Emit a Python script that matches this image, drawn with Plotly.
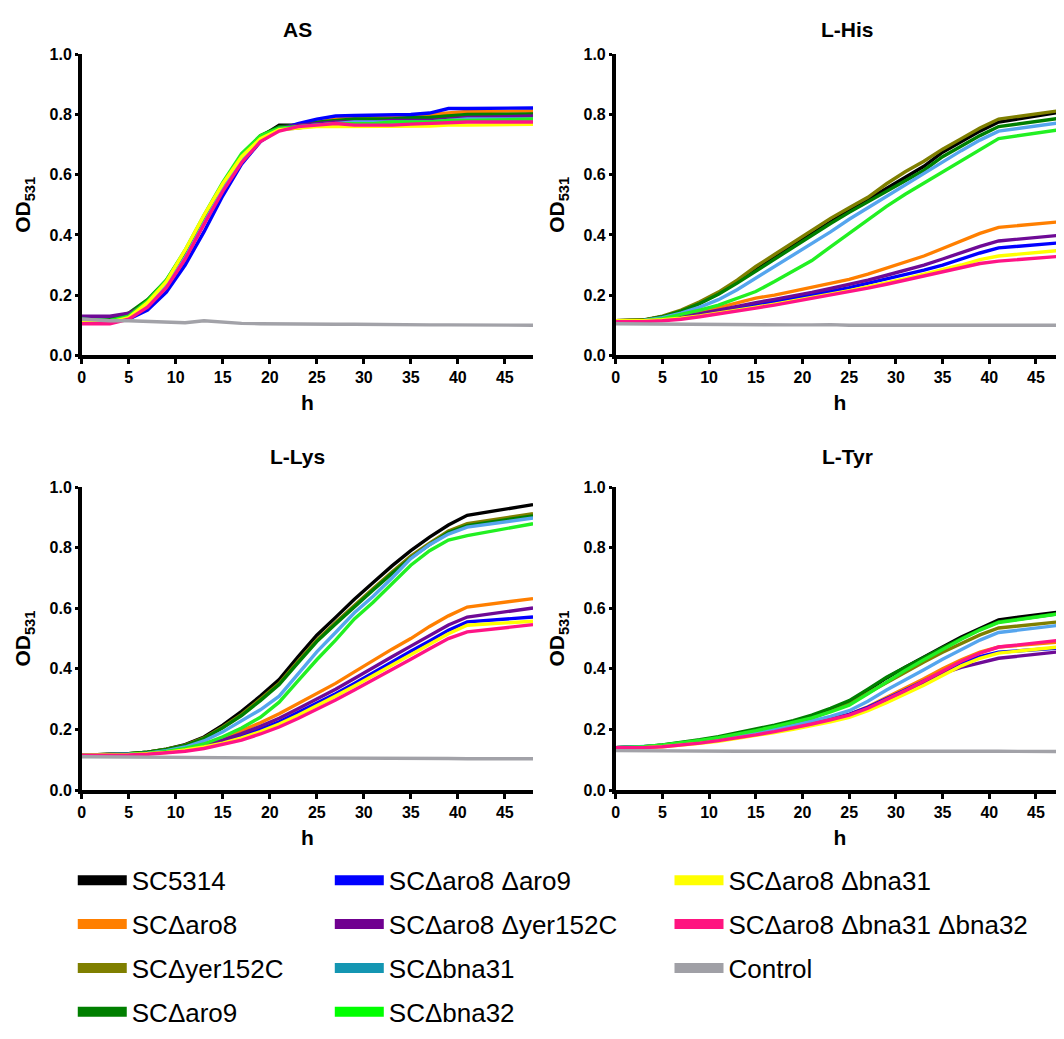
import plotly.graph_objects as go

# page body has an 8px margin, so the figure is sized to fill the window from there
W, H = 1056, 1031
OFF = 8

hours = [0, 3, 5, 7, 9, 11, 13, 15, 17, 19, 21, 23, 25, 27, 29, 31, 33, 35, 37, 39, 41, 48]
xticks = [0, 5, 10, 15, 20, 25, 30, 35, 40, 45]
yticks = [0.0, 0.2, 0.4, 0.6, 0.8, 1.0]
panel_titles = ["AS", "L-His", "L-Lys", "L-Tyr"]

strains = ["SC5314", "SCΔaro8", "SCΔyer152C", "SCΔaro9",
           "SCΔaro8 Δaro9", "SCΔaro8 Δyer152C", "SCΔbna31", "SCΔbna32",
           "SCΔaro8 Δbna31", "SCΔaro8 Δbna31 Δbna32", "Control"]
line_colors = ["#000000", "#FF7F00", "#7F7F00", "#007F00",
               "#0000FF", "#6E0A96", "#55A5EE", "#22F022",
               "#FFFF00", "#FF1486", "#A2A2A8"]
swatch_colors = ["#000000", "#FF7F00", "#7F7F00", "#007F00",
                 "#0000FF", "#700090", "#1496B2", "#00FF00",
                 "#FFFF00", "#FF1480", "#A0A0A6"]

# ---- AS ----
as_sc5314 = [0.125,0.12,0.135,0.18,0.245,0.34,0.455,0.565,0.66,0.725,0.765,0.765,0.77,0.775,0.78,0.78,0.78,0.785,0.785,0.79,0.795,0.80]
as_aro8 = [0.12,0.115,0.13,0.175,0.24,0.335,0.45,0.56,0.65,0.72,0.755,0.765,0.775,0.785,0.79,0.79,0.795,0.795,0.80,0.805,0.81,0.812]
as_yer = [0.125,0.12,0.135,0.18,0.245,0.34,0.455,0.565,0.66,0.725,0.75,0.755,0.765,0.775,0.78,0.78,0.785,0.785,0.79,0.795,0.795,0.80]
as_aro9 = [0.125,0.12,0.14,0.185,0.25,0.345,0.46,0.57,0.665,0.73,0.76,0.765,0.775,0.78,0.785,0.785,0.785,0.79,0.79,0.795,0.80,0.802]
as_aro8aro9 = [0.11,0.11,0.12,0.15,0.21,0.30,0.41,0.53,0.635,0.71,0.75,0.77,0.785,0.795,0.797,0.798,0.80,0.80,0.805,0.82,0.82,0.822]
as_aro8yer = [0.13,0.13,0.14,0.17,0.23,0.32,0.44,0.55,0.65,0.72,0.755,0.765,0.77,0.775,0.775,0.775,0.78,0.78,0.78,0.785,0.79,0.795]
as_bna31 = [0.12,0.115,0.125,0.165,0.23,0.325,0.44,0.55,0.645,0.715,0.75,0.76,0.765,0.77,0.775,0.775,0.775,0.775,0.775,0.78,0.785,0.785]
as_bna32 = [0.12,0.115,0.13,0.18,0.25,0.35,0.465,0.575,0.67,0.73,0.755,0.76,0.765,0.77,0.77,0.77,0.775,0.775,0.775,0.78,0.78,0.785]
as_aro8bna31 = [0.11,0.11,0.125,0.175,0.245,0.35,0.465,0.57,0.66,0.72,0.75,0.755,0.76,0.76,0.76,0.76,0.76,0.762,0.762,0.765,0.765,0.768]
as_triple = [0.105,0.105,0.12,0.16,0.225,0.32,0.435,0.545,0.64,0.71,0.745,0.76,0.765,0.77,0.765,0.765,0.765,0.768,0.77,0.772,0.775,0.775]
as_control = [0.12,0.115,0.115,0.113,0.11,0.108,0.115,0.11,0.106,0.105,0.104,0.104,0.104,0.103,0.103,0.102,0.102,0.102,0.101,0.101,0.101,0.10]

# ---- L-His ----
his_sc5314 = [0.115,0.117,0.128,0.147,0.173,0.205,0.243,0.285,0.325,0.365,0.405,0.445,0.482,0.518,0.555,0.592,0.628,0.675,0.71,0.745,0.775,0.81]
his_aro8 = [0.115,0.117,0.122,0.13,0.143,0.158,0.175,0.19,0.2,0.213,0.225,0.238,0.252,0.27,0.29,0.31,0.33,0.355,0.38,0.405,0.425,0.445]
his_yer = [0.115,0.118,0.13,0.15,0.178,0.21,0.25,0.295,0.335,0.375,0.415,0.455,0.49,0.525,0.57,0.61,0.645,0.685,0.72,0.755,0.785,0.815]
his_aro9 = [0.115,0.117,0.128,0.147,0.172,0.203,0.24,0.28,0.32,0.36,0.4,0.438,0.475,0.51,0.545,0.58,0.615,0.66,0.695,0.73,0.76,0.79]
his_aro8aro9 = [0.115,0.115,0.12,0.127,0.136,0.147,0.158,0.168,0.178,0.19,0.2,0.212,0.225,0.239,0.253,0.268,0.283,0.3,0.32,0.34,0.357,0.375]
his_aro8yer = [0.115,0.115,0.12,0.128,0.138,0.15,0.163,0.175,0.186,0.197,0.209,0.222,0.235,0.25,0.266,0.283,0.3,0.32,0.342,0.362,0.38,0.40]
his_bna31 = [0.115,0.116,0.125,0.14,0.16,0.185,0.218,0.256,0.295,0.332,0.37,0.41,0.452,0.49,0.53,0.568,0.605,0.645,0.68,0.715,0.745,0.775]
his_bna32 = [0.115,0.115,0.122,0.135,0.15,0.167,0.19,0.212,0.245,0.28,0.315,0.36,0.405,0.45,0.495,0.535,0.572,0.608,0.645,0.685,0.72,0.752]
his_aro8bna31 = [0.115,0.115,0.118,0.123,0.131,0.14,0.15,0.16,0.17,0.181,0.192,0.204,0.215,0.228,0.241,0.255,0.27,0.285,0.3,0.318,0.33,0.35]
his_triple = [0.112,0.112,0.115,0.12,0.128,0.137,0.147,0.157,0.167,0.178,0.189,0.2,0.211,0.223,0.236,0.25,0.263,0.277,0.292,0.305,0.313,0.33]
his_control = [0.105,0.104,0.103,0.103,0.102,0.102,0.102,0.101,0.101,0.101,0.101,0.102,0.1,0.099,0.1,0.1,0.1,0.1,0.1,0.1,0.1,0.1]

# ---- L-Lys ----
lys_sc5314 = [0.115,0.117,0.12,0.125,0.135,0.15,0.175,0.214,0.26,0.31,0.365,0.44,0.511,0.57,0.63,0.685,0.74,0.79,0.835,0.875,0.907,0.942]
lys_aro8 = [0.115,0.116,0.118,0.121,0.128,0.138,0.152,0.17,0.195,0.222,0.252,0.285,0.318,0.352,0.39,0.428,0.465,0.5,0.54,0.575,0.604,0.632]
lys_yer = [0.115,0.117,0.12,0.125,0.135,0.148,0.172,0.208,0.25,0.3,0.352,0.425,0.495,0.553,0.61,0.665,0.72,0.772,0.815,0.855,0.879,0.912]
lys_aro9 = [0.115,0.117,0.12,0.125,0.134,0.147,0.17,0.205,0.246,0.295,0.348,0.42,0.49,0.548,0.605,0.66,0.715,0.766,0.81,0.85,0.873,0.905]
lys_aro8aro9 = [0.115,0.116,0.118,0.12,0.126,0.134,0.146,0.16,0.178,0.2,0.225,0.255,0.286,0.318,0.352,0.388,0.423,0.458,0.492,0.527,0.555,0.571]
lys_aro8yer = [0.115,0.116,0.118,0.121,0.127,0.136,0.149,0.165,0.186,0.21,0.237,0.268,0.3,0.333,0.368,0.405,0.44,0.475,0.51,0.545,0.571,0.601]
lys_bna31 = [0.115,0.116,0.118,0.122,0.13,0.142,0.162,0.192,0.228,0.265,0.31,0.385,0.456,0.52,0.585,0.64,0.7,0.764,0.81,0.845,0.868,0.898]
lys_bna32 = [0.115,0.116,0.118,0.121,0.127,0.137,0.152,0.176,0.205,0.24,0.29,0.36,0.43,0.495,0.565,0.62,0.68,0.742,0.79,0.825,0.84,0.879]
lys_aro8bna31 = [0.115,0.115,0.117,0.12,0.124,0.132,0.142,0.155,0.172,0.193,0.218,0.247,0.277,0.31,0.343,0.378,0.413,0.447,0.481,0.516,0.544,0.557]
lys_triple = [0.115,0.115,0.116,0.118,0.122,0.128,0.137,0.15,0.165,0.185,0.208,0.236,0.265,0.297,0.33,0.363,0.398,0.432,0.466,0.5,0.522,0.546]
lys_control = [0.11,0.109,0.108,0.108,0.108,0.107,0.107,0.107,0.106,0.106,0.106,0.106,0.106,0.105,0.105,0.105,0.105,0.105,0.104,0.104,0.103,0.103]

# ---- L-Tyr ----
tyr_sc5314 = [0.14,0.143,0.148,0.155,0.163,0.172,0.183,0.195,0.208,0.222,0.24,0.265,0.29,0.33,0.37,0.405,0.44,0.472,0.505,0.535,0.562,0.59]
tyr_aro8 = [0.14,0.141,0.145,0.15,0.157,0.165,0.174,0.184,0.195,0.207,0.22,0.235,0.25,0.275,0.305,0.335,0.367,0.4,0.43,0.455,0.472,0.49]
tyr_yer = [0.14,0.142,0.147,0.154,0.162,0.171,0.182,0.194,0.207,0.222,0.238,0.26,0.285,0.32,0.355,0.39,0.423,0.455,0.485,0.512,0.535,0.557]
tyr_aro9 = [0.14,0.143,0.149,0.157,0.166,0.176,0.188,0.2,0.214,0.229,0.247,0.27,0.295,0.333,0.372,0.405,0.438,0.47,0.5,0.53,0.555,0.585]
tyr_aro8aro9 = [0.14,0.141,0.145,0.15,0.157,0.165,0.174,0.184,0.195,0.207,0.22,0.234,0.25,0.273,0.3,0.33,0.36,0.39,0.418,0.44,0.455,0.47]
tyr_aro8yer = [0.14,0.141,0.145,0.15,0.157,0.165,0.174,0.184,0.195,0.207,0.22,0.234,0.248,0.27,0.298,0.325,0.355,0.385,0.405,0.42,0.435,0.458]
tyr_bna31 = [0.14,0.142,0.146,0.152,0.159,0.167,0.177,0.188,0.2,0.213,0.228,0.243,0.262,0.293,0.33,0.362,0.397,0.432,0.465,0.495,0.52,0.546]
tyr_bna32 = [0.14,0.143,0.149,0.156,0.164,0.173,0.184,0.196,0.209,0.223,0.238,0.258,0.28,0.318,0.358,0.395,0.43,0.465,0.498,0.528,0.553,0.584]
tyr_aro8bna31 = [0.14,0.14,0.143,0.148,0.154,0.161,0.17,0.18,0.19,0.2,0.212,0.225,0.24,0.262,0.288,0.316,0.346,0.378,0.41,0.435,0.452,0.474]
tyr_triple = [0.14,0.14,0.143,0.148,0.155,0.163,0.172,0.182,0.193,0.205,0.218,0.232,0.247,0.27,0.298,0.328,0.36,0.392,0.425,0.452,0.472,0.496]
tyr_control = [0.13,0.129,0.128,0.128,0.128,0.128,0.128,0.128,0.128,0.129,0.129,0.129,0.129,0.129,0.13,0.13,0.13,0.13,0.129,0.129,0.128,0.127]

panels = [
    [as_sc5314, as_aro8, as_yer, as_aro9, as_aro8aro9, as_aro8yer, as_bna31, as_bna32, as_aro8bna31, as_triple, as_control],
    [his_sc5314, his_aro8, his_yer, his_aro9, his_aro8aro9, his_aro8yer, his_bna31, his_bna32, his_aro8bna31, his_triple, his_control],
    [lys_sc5314, lys_aro8, lys_yer, lys_aro9, lys_aro8aro9, lys_aro8yer, lys_bna31, lys_bna32, lys_aro8bna31, lys_triple, lys_control],
    [tyr_sc5314, tyr_aro8, tyr_yer, tyr_aro9, tyr_aro8aro9, tyr_aro8yer, tyr_bna31, tyr_bna32, tyr_aro8bna31, tyr_triple, tyr_control],
]

# ---- layout geometry (window pixels -> paper fractions) ----
def fx(px):
    return (px - OFF) / W

def fy(py):
    return 1 - (py - OFF) / H

x_domains = [[fx(78), fx(531)], [fx(614), 1.0]]
y_domains = [[fy(353), fy(47)], [fy(795), fy(487)]]

FONT = "Liberation Sans, Arial, sans-serif"

fig = go.Figure()

for p, series in enumerate(panels):
    ax = "" if p == 0 else str(p + 1)
    for i, ys in enumerate(series):
        fig.add_trace(go.Scatter(
            x=hours, y=ys, mode="lines", name=strains[i],
            line=dict(color=line_colors[i], width=3.4),
            xaxis="x" + ax, yaxis="y" + ax, showlegend=False,
        ))

# legend entries (three columns)
legend_cols = [[0, 1, 2, 3], [4, 5, 6, 7], [8, 9, 10]]
legend_names = ["legend", "legend2", "legend3"]
for c, idxs in enumerate(legend_cols):
    for i in idxs:
        fig.add_trace(go.Scatter(
            x=[None], y=[None], mode="lines", name=strains[i],
            line=dict(color=swatch_colors[i], width=22),
            legend=legend_names[c], legendgroup=strains[i],
            showlegend=True, hoverinfo="skip",
        ))

layout = dict(
    width=W, height=H,
    margin=dict(l=0, r=0, t=0, b=0),
    paper_bgcolor="white", plot_bgcolor="white",
    font=dict(family=FONT, color="black"),
    showlegend=True,
)

tick_font = dict(family=FONT, size=16, weight="bold", color="black")
title_font = dict(family=FONT, size=21, weight="bold", color="black")

for p in range(4):
    ax = "" if p == 0 else str(p + 1)
    col = p % 2
    row = p // 2
    layout["xaxis" + ax] = dict(
        domain=x_domains[col], anchor="y" + ax, range=[0, 48],
        tickvals=xticks, ticks="outside", ticklen=5, tickwidth=2.5,
        tickcolor="black", showline=True, linecolor="black", linewidth=3.5,
        showgrid=False, zeroline=False, tickfont=tick_font,
        title=dict(text="h", font=title_font, standoff=11),
        fixedrange=True,
    )
    layout["yaxis" + ax] = dict(
        domain=y_domains[row], anchor="x" + ax, range=[0, 1.0],
        tickvals=yticks, tickformat=".1f", ticks="outside", ticklen=3,
        tickwidth=2.5, tickcolor="black", showline=True, linecolor="black",
        linewidth=3.5, showgrid=False, zeroline=False, tickfont=tick_font,
        title=dict(text="OD<sub>531</sub>", font=title_font, standoff=14),
        fixedrange=True,
    )

legend_x = [fx(69), fx(327), fx(668)]
for c, lname in enumerate(legend_names):
    layout[lname] = dict(
        x=legend_x[c], y=fy(863), xanchor="left", yanchor="top",
        orientation="v", font=dict(family=FONT, size=26, color="black"),
        itemwidth=49, tracegroupgap=7, bgcolor="rgba(0,0,0,0)",
        borderwidth=0, itemclick=False, itemdoubleclick=False,
    )

fig.update_layout(**layout)

title_x = [0.478, 0.518, 0.478, 0.518]
title_shift = [25, 25, 31, 31]
for p, t in enumerate(panel_titles):
    ax = "" if p == 0 else str(p + 1)
    fig.add_annotation(
        text=t, xref=("x" + ax + " domain"), yref=("y" + ax + " domain"),
        x=title_x[p], y=1.0, xanchor="center", yanchor="middle", yshift=title_shift[p],
        showarrow=False, font=dict(family=FONT, size=21, weight="bold", color="black"),
    )

fig.write_html("out.html", config={"displayModeBar": False})
